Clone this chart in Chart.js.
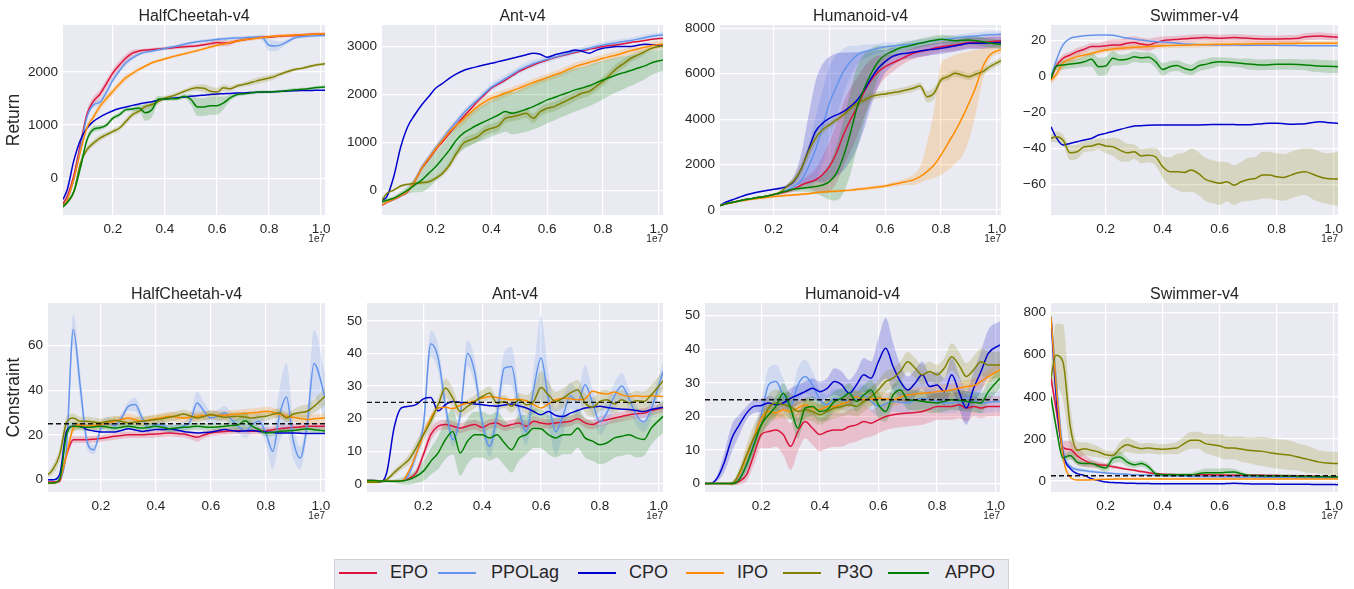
<!DOCTYPE html>
<html>
<head>
<meta charset="utf-8">
<title>Safe RL training curves</title>
<script src="https://cdn.jsdelivr.net/npm/chart.js@4.4.1/dist/chart.umd.min.js"></script>
<style>
  html, body { margin: 0; padding: 0; background: #fff; }
  body { width: 1354px; height: 589px; position: relative; overflow: hidden;
         font-family: "Liberation Sans", Arial, sans-serif; }
  canvas { position: absolute; }
  #legend { position: absolute; left: 334px; top: 559px; width: 675px; height: 36px;
            background: #eaeaf2; border: 1px solid #cfcfd6; box-sizing: border-box; }
  .lg-line { position: absolute; top: 11.5px; height: 2px; width: 38px; }
  .lg-text { position: absolute; top: 1px; font-size: 18px; line-height: 22px; color: #262626; }
</style>
</head>
<body>

<div id="legend"></div>

<script>
// Training steps (units of 1e7)
const STEPS = [0.008, 0.025, 0.05, 0.075, 0.1, 0.125, 0.15, 0.175, 0.2, 0.225,
               0.25, 0.275, 0.3, 0.325, 0.35, 0.375, 0.4, 0.425, 0.45, 0.475,
               0.5, 0.525, 0.55, 0.575, 0.6, 0.625, 0.65, 0.675, 0.7, 0.725,
               0.75, 0.775, 0.8, 0.825, 0.85, 0.875, 0.9, 0.925, 0.95, 0.975, 1.015];

const ALGOS = ['EPO', 'PPOLag', 'CPO', 'IPO', 'P3O', 'APPO'];
const CONSTRAINT_LIMIT = 25;

const X_TICKS = [0.2, 0.4, 0.6, 0.8, 1.0];
const hcRetTicks = [0, 1000, 2000];
const antRetTicks = [0, 1000, 2000, 3000];
const humRetTicks = [0, 2000, 4000, 6000, 8000];
const swRetTicks = [-60, -40, -20, 0, 20];
const hcConTicks = [0, 20, 40, 60];
const antConTicks = [0, 10, 20, 30, 40, 50];
const humConTicks = [0, 10, 20, 30, 40, 50];
const swConTicks = [0, 200, 400, 600, 800];

// ---------- HalfCheetah return ----------
const hcRetEPO = [-480,-330,60,640,1200,1450,1580,1780,1980,2130,
  2260,2350,2390,2410,2420,2430,2440,2450,2460,2470,
  2480,2490,2510,2530,2550,2540,2545,2580,2600,2620,
  2640,2650,2655,2665,2675,2680,2685,2690,2700,2705,2710];
const hcRetEPOSd = [30,30,40,60,80,80,80,80,80,80, 70,60,40,30,30,30,30,30,30,30,
  30,30,30,40,60,60,50,30,30,30, 30,30,30,30,30,30,30,30,30,30, 30];
const hcRetPPOLag = [-520,-380,-20,560,1150,1380,1430,1620,1850,2020,
  2170,2260,2330,2370,2390,2415,2440,2465,2490,2520,
  2545,2565,2580,2595,2610,2620,2630,2635,2640,2650,
  2655,2640,2500,2485,2515,2580,2640,2660,2670,2680,2685];
const hcRetPPOLagSd = [30,30,40,60,60,60,60,60,60,50, 50,40,30,30,30,30,30,30,30,30,
  30,30,30,30,30,30,30,30,30,30, 30,60,110,100,60,40,30,30,30,30, 30];
const hcRetCPO = [-400,-200,340,720,940,1070,1150,1215,1270,1310,
  1340,1370,1395,1420,1440,1465,1490,1505,1515,1528,
  1540,1550,1562,1574,1585,1590,1595,1600,1604,1610,
  1615,1620,1623,1628,1633,1640,1645,1648,1650,1652,1655];
const hcRetIPO = [-520,-400,0,500,950,1150,1350,1500,1635,1770,
  1890,1970,2045,2110,2170,2210,2245,2280,2310,2340,
  2370,2400,2435,2465,2500,2525,2550,2575,2600,2615,
  2630,2645,2660,2670,2680,2686,2692,2697,2702,2706,2710];
const hcRetIPOSd = [30,30,40,50,60,60,70,70,70,60, 60,50,40,30,30,30,30,30,30,30,
  30,30,30,30,30,30,30,30,30,30, 30,30,30,30,30,30,30,30,30,30, 30];
const hcRetP3O = [-500,-450,-250,280,535,660,755,820,880,945,
  1070,1195,1260,1350,1385,1445,1510,1540,1585,1635,
  1680,1700,1690,1635,1620,1700,1680,1730,1760,1790,
  1825,1855,1885,1920,1970,2010,2045,2065,2095,2125,2150];
const hcRetP3OSd = [30,30,40,60,60,60,60,50,50,50, 60,60,50,60,60,50,40,40,40,40,
  50,60,80,90,80,60,50,40,40,50, 60,60,60,50,40,40,30,30,30,30, 30];
const hcRetAPPO = [-540,-450,-250,200,720,920,950,1000,1130,1195,
  1290,1300,1320,1230,1290,1490,1490,1495,1500,1540,
  1480,1340,1340,1365,1365,1415,1510,1570,1585,1600,
  1615,1620,1623,1630,1635,1650,1665,1672,1680,1700,1717];
const hcRetAPPOSd = [30,30,40,60,60,60,50,40,40,40, 40,40,60,150,140,60,40,40,40,40,
  100,170,170,170,170,120,60,40,30,30, 30,30,30,30,30,30,30,30,30,30, 30];

// ---------- Ant return ----------
const antRetEPO = [-320,-260,-200,-120,-35,175,450,640,840,1010,
  1190,1360,1535,1690,1850,1990,2130,2215,2300,2390,
  2480,2550,2615,2670,2720,2765,2805,2840,2875,2910,
  2945,2970,3000,3020,3035,3060,3085,3105,3125,3150,3175];
const antRetPPOLag = [-300,-250,-190,-110,-20,200,480,680,880,1070,
  1260,1430,1605,1750,1885,2020,2150,2240,2330,2420,
  2510,2580,2640,2690,2735,2775,2815,2855,2895,2930,
  2965,3000,3035,3060,3080,3105,3125,3155,3185,3215,3245];
const antRetPPOLagSd = [20,20,20,30,30,40,50,60,70,70, 70,70,70,70,70,70,80,80,80,80,
  80,80,80,70,70,60,60,60,60,60, 60,60,60,60,60,60,60,60,60,60, 60];
const antRetCPO = [-210,-140,280,900,1325,1570,1780,1950,2130,2230,
  2340,2430,2500,2545,2580,2620,2650,2685,2720,2755,
  2790,2830,2860,2840,2775,2825,2860,2890,2930,2900,
  2860,2920,2965,2985,3000,3000,3000,3025,3050,3035,3020];
const antRetIPO = [-310,-250,-190,-110,-20,190,460,660,860,1040,
  1220,1360,1480,1620,1745,1840,1920,1970,2025,2075,
  2130,2190,2250,2300,2350,2405,2455,2520,2580,2625,
  2665,2710,2755,2790,2825,2870,2915,2950,2985,3020,3055];
const antRetIPOSd = [20,20,20,30,30,40,50,60,70,80, 90,100,110,110,100,100,90,90,80,80,
  80,80,80,80,80,80,80,80,80,80, 80,80,80,80,80,80,80,80,80,80, 80];
const antRetP3O = [-210,-70,0,85,120,140,155,175,245,350,
  525,770,980,1050,1115,1235,1290,1340,1500,1535,
  1570,1605,1500,1640,1710,1745,1815,1885,1955,2025,
  2060,2165,2270,2410,2550,2650,2755,2825,2895,2965,3015];
const antRetP3OSd = [20,20,30,30,30,30,40,40,50,60, 80,100,100,100,100,100,100,100,100,100,
  100,100,100,100,100,100,100,100,100,100, 100,100,100,100,100,100,80,80,60,60, 60];
const antRetAPPO = [-245,-210,-170,-90,0,105,210,350,490,660,
  840,1050,1190,1280,1360,1430,1500,1570,1640,1605,
  1640,1690,1745,1815,1885,1935,1990,2040,2095,2135,
  2180,2240,2300,2355,2410,2455,2500,2550,2595,2660,2720];
const antRetAPPOSd = [30,30,40,60,80,150,250,300,300,300, 300,320,340,350,360,370,380,400,420,440,
  450,470,480,490,490,480,470,460,450,440, 430,420,400,380,360,340,320,300,280,250, 220];

// ---------- Humanoid return ----------
const humRetEPO = [190,260,330,400,460,510,560,610,680,740,
  820,940,1100,1220,1320,1550,1910,2500,3300,3960,
  4550,5210,5725,6090,6310,6470,6605,6760,6900,6975,
  7045,7120,7190,7230,7265,7320,7370,7370,7370,7410,7455];
const humRetEPOSd = [20,20,20,20,30,30,30,30,40,60, 80,120,200,300,500,800,1100,1300,1400,1400,
  1300,1100,900,700,500,400,300,250,250,250, 250,250,250,250,250,250,250,250,250,250, 250];
const humRetPPOLag = [190,260,330,400,460,510,560,610,680,760,
  900,1050,1320,1900,2640,3670,4700,5430,6090,6530,
  6825,6970,7045,7120,7190,7220,7250,7280,7310,7355,
  7400,7445,7490,7525,7560,7600,7635,7660,7690,7715,7735];
const humRetPPOLagSd = [20,20,20,20,30,30,30,30,40,60, 100,200,400,900,1400,1600,1600,1400,1000,700,
  400,300,250,200,200,150,150,150,150,150, 150,150,150,150,150,150,150,150,150,150, 150];
const humRetCPO = [190,320,440,550,660,740,805,860,910,960,
  1050,1300,1835,2640,3450,3815,4035,4185,4330,4550,
  4845,5285,5800,6240,6530,6750,6855,6900,6945,7000,
  7045,7080,7120,7170,7220,7280,7340,7340,7340,7355,7370];
const humRetCPOSd = [30,30,30,30,30,30,30,30,40,60, 100,250,700,1500,2200,2600,2700,2700,2600,2400,
  2100,1700,1200,800,500,400,300,250,250,250, 250,250,250,250,250,250,250,250,250,250, 250];
const humRetIPO = [190,260,320,380,430,480,520,555,590,620,
  650,670,690,720,760,790,810,830,850,875,
  910,940,975,1015,1060,1120,1175,1250,1320,1470,
  1690,1980,2420,2935,3450,4035,4700,5430,6310,6825,7075];
const humRetIPOHi = [230,300,370,430,490,540,580,615,650,680,
  710,730,750,780,820,850,870,890,910,940,
  980,1020,1060,1100,1150,1230,1300,1400,1540,1900,
  2940,4400,6460,6680,6830,6900,6970,7050,7120,7190,7250];
const humRetIPOLo = [150,220,270,330,370,420,460,495,530,560,
  590,610,630,660,700,730,750,770,790,810,
  840,860,890,930,980,1020,1060,1100,1100,1200,
  1320,1400,1540,1760,2050,2350,3080,4250,5720,6600,6900];
const humRetP3O = [190,260,330,400,460,510,560,610,680,800,
  1060,1320,1835,2570,3155,3525,3745,3965,4185,4475,
  4700,4845,4990,5065,5110,5165,5210,5285,5360,5460,
  4990,5140,5725,5870,6020,5945,5870,5990,6090,6310,6575];
const humRetP3OSd = [20,20,20,20,30,30,30,30,40,60, 100,200,300,300,250,200,150,150,150,150,
  150,150,150,150,150,150,150,150,150,150, 250,250,150,150,150,150,150,150,150,150, 150];
const humRetAPPO = [190,260,330,400,460,510,560,610,680,760,
  850,920,955,990,1030,1100,1250,1615,2350,3375,
  4550,5360,6020,6530,6825,6980,7120,7200,7265,7340,
  7410,7470,7515,7490,7455,7470,7485,7450,7410,7350,7295];
const humRetAPPOSd = [20,20,20,20,30,30,30,30,40,60, 80,100,150,200,300,500,800,1200,1600,1800,
  1800,1500,1100,700,400,250,200,200,200,200, 200,200,200,200,200,200,200,200,200,200, 200];

// ---------- Swimmer return ----------
const swRetEPO = [-1.5,5.5,10.2,12,13.9,15.2,16.7,16.7,17.2,17.6,
  17.6,18.5,18.9,18.1,17.6,18.9,20,20.4,20.7,21,
  21.3,21.5,21.7,21.5,21.3,21.5,21.7,21.5,21.3,21.1,
  20.9,20.9,20.9,21,21.1,21.3,22.2,22.4,22.6,22.3,21.9];
const swRetEPOSd = [2,2,2,2,2,2,2,2,2.5,3, 3,3.5,3.5,3.5,3.5,3,2.5,2,2,2,
  2,2,2,2,2,2,2,2,2,2, 2,2,2,2,2,2,2,2,2,2, 2];
const swRetPPOLag = [0,8.3,17.6,21.3,22.2,22.7,23,23.2,23.2,23,
  22.2,21.5,20.9,20.3,19.8,19.5,19.3,18.9,18.5,18.2,
  18,17.8,17.7,17.6,17.6,17.6,17.6,17.5,17.5,17.5,
  17.4,17.4,17.4,17.3,17.3,17.2,17.2,17.2,17.2,17.2,17.2];
const swRetCPO = [-27.9,-33.5,-38.1,-37.2,-36.2,-35.3,-34.4,-32.5,-31.6,-30.5,
  -29.4,-28.4,-27.5,-27.3,-27.1,-27,-27,-27,-27,-27,
  -27,-26.9,-26.8,-26.7,-26.6,-26.6,-26.7,-26.8,-26.8,-26.5,
  -26.2,-26,-26,-26.2,-26.5,-26.4,-26.2,-25.6,-25.1,-25.5,-26];
const swRetIPO = [-1.9,0.9,7.4,9.6,11.1,12,12.9,13.9,14.8,15.3,
  15.7,16,16.3,16.5,16.7,17,17.2,17.3,17.4,17.5,
  17.6,17.7,17.8,17.9,18,18,18.1,18.1,18.1,18.2,
  18.2,18.3,18.3,18.4,18.4,18.5,18.5,18.5,18.5,18.5,18.5];
const swRetIPOSd = [2,2.5,3,2.5,2,1.5,1.5,1.5,1.5,1.5, 1.5,1.5,1.5,1.5,1.5,1.5,1.5,1.5,1.5,1.5,
  1.5,1.5,1.5,1.5,1.5,1.5,1.5,1.5,1.5,1.5, 1.5,1.5,1.5,1.5,1.5,1.5,1.5,1.5,1.5,1.5, 1.5];
const swRetP3O = [-34.4,-33.5,-35.3,-42.4,-41.8,-39,-38.6,-37.5,-38.6,-39,
  -40.9,-42.4,-41.8,-44.2,-43.7,-44.6,-50.2,-52.9,-52.9,-53.3,
  -52,-53.9,-57.2,-58.5,-59.4,-58.5,-60.4,-58.5,-57.2,-56.7,
  -54.8,-54.8,-55.7,-56.1,-54.8,-53.5,-52.9,-54.2,-55.7,-56.7,-57];
const swRetP3OSd = [2,3,3,4,4,3,3,3,4,5, 6,5,4,4,4,5,6,8,10,11,
  12,12,12,12,12,11,11,11,12,12, 13,13,13,13,13,13,13,14,14,14, 15];
const swRetAPPO = [-1,5.5,6.5,7,7.4,8.3,9.6,5.5,5.9,10.2,
  9.2,9.6,11.1,10.5,10.7,8.3,4,5.5,6.1,4.6,
  3.7,5.9,6.8,7.8,8.3,8.1,7.9,7.4,7,6.7,
  6.5,6.6,6.8,6.8,6.8,6.7,6.5,6.2,5.9,5.7,5.5];
const swRetAPPOSd = [2,2,2.5,2.5,2.5,3,4,5,5,4, 3,3,3,3,3,3.5,3.5,3,3,3,
  3,3,3,3,2.5,2.5,2.5,2.5,3,3, 3,3,3,3,3,3,3,3.5,3.5,3.5, 3.5];

// ---------- HalfCheetah constraint ----------
const hcConEPO = [-1,-1,-0.7,11,17.9,17.9,17.9,18.1,18.4,18.9,
  19.4,19.8,20.1,20.1,20.1,20.3,20.4,20.7,20.9,20.6,
  20.4,19.7,19,20,20.9,21.3,21.6,21.8,21.9,21.8,
  21.7,21.8,21.9,22.3,22.8,23.1,23.4,23.6,23.9,23.9,23.9];
const hcConEPOSd = [0.5,0.5,1,2,1.5,1.5,1.5,1.5,1.5,1.5, 1.5,1.5,1.5,1.5,1.5,1.5,1.5,1.5,1.5,1.5,
  1.5,1.5,2,1.5,1.5,1.5,1.5,1.5,1.5,1.5, 1.5,1.5,1.5,1.5,1.5,1.5,1.5,1.5,1.5,1.5, 1.5];
const hcConPPOLag = [0,0,0.7,14,67,42,17,13.4,23,26,
  24,27.6,32.8,33.6,27.6,23,24.6,24.6,22.4,23,
  23.9,26,34.3,30.6,27.6,28.4,29.9,26.9,23.9,21.6,
  24.6,26.1,20.9,12.7,29.1,37,17.2,9.7,24.6,52,37];
const hcConPPOLagSd = [0,0,1,3,7,6,3,2,2,2, 2,2,2,3,2,2,2,2,2,2,
  2,3,5,4,3,3,3,3,3,3, 3,3,5,8,12,15,8,5,5,15, 10];
const hcConCPO = [0,0,2.2,21.6,23.9,23.9,22.4,21.8,21.3,21.3,
  21.3,22,22.8,22.2,21.6,22,22.4,22.4,22.8,22.2,
  21.6,21.2,20.9,21.1,21.3,21.9,22.4,22,21.6,21.8,
  22,21.6,21.3,21.1,20.9,20.9,20.9,20.8,20.6,20.6,20.6];
const hcConIPO = [-1.5,-1.5,0,11,23,24.6,23.9,24.2,24.6,25.3,
  26.1,26.9,27.6,26.8,26.1,26.7,27.3,27.8,28.4,28,
  27.6,28,28.4,28.6,28.8,28.8,28.8,29.1,29.4,29.6,
  29.9,30.2,30.6,30.2,29.1,28.4,27.9,27.4,26.9,27.2,27.6];
const hcConIPOSd = [0.5,0.5,1,2,2,2,2,2,2,2, 2,2,2,2,2,2,2,2,2,2,
  2,2,2,2,2,2,2,2,2,2, 2,2,2,2,2,2,2,2,2,2, 2];
const hcConP3O = [2.2,4.5,11,25.4,27.6,26.1,26.1,25.8,25.4,26,
  26.6,26,25.4,25.8,26.1,26.5,26.9,27.3,27.9,28.6,
  29.4,28.5,27.6,28.3,29.1,28.5,27.9,28.2,28.4,28,
  27.6,28,28.4,29.2,29.9,27.6,29.4,30,30.6,32.8,37.3];
const hcConP3OSd = [1,2,3,3,2,2,2,2,2,2, 2,2,2,2,2,2,2,2,2,2,
  2,2,2,2,2,2,2,2,2,2, 2,2,2,2,2,2,2,3,3,3, 4];
const hcConAPPO = [-1.5,-1.5,0,20,23.9,23.6,23.4,23.6,23.9,23.5,
  23.1,23.5,23.9,23.4,23.1,23.5,23.9,23.4,22.8,23.1,
  23.4,23.6,23.9,23.6,23.4,23.6,23.9,24.2,24.6,26.4,
  23.9,22.4,20.9,21.2,21.6,21.8,22,22.4,22.8,22.3,21.9];
const hcConAPPOSd = [0.5,0.5,1,2,2,1.5,1.5,1.5,1.5,1.5, 1.5,1.5,1.5,1.5,1.5,1.5,1.5,1.5,1.5,1.5,
  1.5,1.5,1.5,1.5,1.5,1.5,1.5,2,3,4, 2,1.5,1.5,1.5,1.5,1.5,1.5,1.5,1.5,1.5, 1.5];

// ---------- Ant constraint ----------
const antConEPO = [1,1,0.9,0.8,0.8,0.9,1.6,3.4,9,15.1,
  17.7,18.2,17.7,17.1,17.7,18.2,17.3,18.4,18.7,17.7,
  18.2,18.7,17.7,19.2,18.7,18.4,18.7,18.9,19.2,20,
  18.7,18.2,19.2,19.7,20.2,20.7,21.2,21.5,21.7,22.5,23.3];
const antConEPOSd = [0.3,0.3,0.3,0.3,0.3,0.3,0.5,1,1.5,2, 1.5,1.5,1.5,1.5,1.5,1.5,1.5,1.5,1.5,1.5,
  1.5,1.5,1.5,1.5,1.5,1.5,1.5,1.5,1.5,1.5, 1.5,1.5,1.5,1.5,1.5,1.5,1.5,1.5,1.5,1.5, 1.5];
const antConPPOLag = [1,1,0.9,0.8,0.8,0.8,2.9,9,18,43,
  38.6,24,13.6,21,40,34,19,11.5,21,35.5,
  36,23,16,29,38.6,26,16,21,27,25,
  30.4,25,19,22,27,30,26,21,19,23,34.5];
const antConPPOLagSd = [0.3,0.3,0.3,0.3,0.3,0.3,1,2,3,4, 4,3,2,3,4,4,3,3,4,5,
  6,5,4,6,13,8,7,6,4,4, 6,4,4,4,4,4,3,3,3,3, 3];
const antConCPO = [0.8,0.8,0.6,3.4,17.1,23.3,23.8,24.3,26.1,26.5,
  22.4,24.3,25.3,25,24.8,24.5,24.3,24,23.8,24.2,
  24.5,23.9,23.3,22.2,21.2,22.2,21,20.7,21.7,22.5,
  23.3,23.5,23.8,23.4,23.1,22.9,22.8,22.5,22.2,22.8,23.5];
const antConIPO = [0.8,0.8,0.8,0.8,0.8,0.8,3.9,9,15.1,20.2,
  23.3,23.5,23.1,24.1,24.8,25.5,26.3,26.8,26.5,26.1,
  25.8,26,25.5,24.3,23.3,24.5,25.8,26.3,26.1,25.8,
  26.1,28.4,27.9,27.6,28.2,27.3,26.8,27,26.8,27,26.8];
const antConP3O = [0.5,0.5,0.6,1.3,3.4,5.4,7.4,11,15.1,19.2,
  24.3,29.4,26.3,22.2,23.8,25.3,26.8,27.9,24.8,25.3,
  23.8,25.8,24.3,25.3,29.6,27.3,25.3,26.3,27.9,28.9,
  24.8,23.5,25.3,25.8,24.5,25.8,24.8,25.5,25.3,27.3,31.6];
const antConP3OSd = [0.5,0.5,0.5,0.5,1,1,1.5,2,2,2, 2,3,3,2,2,2,2,2,2,2,
  2,2,3,4,5,4,3,3,3,3, 3,3,3,3,3,3,3,3,3,3, 3];
const antConAPPO = [1,1,0.9,0.8,0.8,0.9,1.3,2.3,3.9,6.9,
  9.5,13.6,16.1,9.5,13.1,15.1,15.1,14.1,15.1,12.6,
  10.5,14.1,15.1,17.1,16.9,15.1,14.1,15.1,15.1,17.1,
  14.1,13.1,12,12.6,14.1,14.6,15.1,14.1,13.6,17.1,20.7];
const antConAPPOSd = [0.3,0.3,0.3,0.3,0.5,1,1.5,2,3,4, 5,6,7,7,7,7,7,7,7,7,
  7,7,6,6,6,6,6,6,6,6, 6,6,6,6,6,6,6,6,5,5, 5];

// ---------- Humanoid constraint ----------
const humConEPO = [0,0,0,0,0,0.7,2.7,8.6,14.6,15.5,
  16,14.6,11.1,15.5,18.5,16.5,14.6,15.5,16,16,
  17,17.5,18.5,18,19,20,20.5,20.8,21,21.2,
  21.5,22.2,23,23,23,23.5,22.5,23,22.5,23,23];
const humConEPOSd = [0,0,0,0,0.5,1,2,3,4,5, 5,6,7,6,5,5,5,5,5,5,
  5,5,5,4,4,4,4,4,4,4, 4,4,4,4,4,4,4,3,3,3, 3];
const humConPPOLag = [0,0,0,0,0.2,1.7,5.6,12.6,20.5,29.4,
  30.4,26.4,23,29.4,31.9,29.4,25,23.5,25.4,25,
  24.5,25.5,26.4,24.5,23,23.8,24.5,24.2,24,24.8,
  25.4,25,24.5,24,24,24.5,25.4,24.8,24,24.2,24.5];
const humConPPOLagSd = [0,0,0,0,0.5,1,2,3,4,5, 5,5,4,5,5,4,3,3,3,3,
  3,3,3,3,3,3,3,3,3,3, 3,3,3,3,3,3,3,3,3,3, 3];
const humConCPO = [0,0,1.7,6.6,13.6,17.5,21,23,23.3,24,
  23.5,24,25.4,26.4,27.4,28.4,27.4,28.4,30.4,29.4,
  26.9,29.4,32.4,31.4,36.3,40.3,34.9,30.4,27.9,29.9,
  32.4,28.9,29.4,27.4,32.4,27.4,22.5,28.4,33.4,38.8,41.3];
const humConCPOSd = [0,0,1,3,4,3,2,2,2,2, 2,2,3,3,3,3,3,3,4,4,
  4,4,5,5,7,9,7,5,4,4, 4,4,4,4,5,5,5,5,6,7, 7];
const humConIPO = [0,0,0,0,0,2.7,8.1,13.6,19.5,21.5,
  21,22,21.5,22.5,23.5,22.5,22,23,23,23.8,
  24.5,25.9,25,25.2,25.4,25.2,25,25.7,26.4,26.7,
  26.9,27.1,27.4,27.6,27.9,28.4,28.9,29.2,30.4,31.9,33.9];
const humConIPOSd = [0,0,0,0,0.5,1,2,2,2,2, 2,2,2,2,2,2,2,2,2,2,
  2,2,2,2,2,2,2,2,2,2, 2,2,2,2,2,2,2,2,2,2, 2];
const humConP3O = [0,0,0,0,0,3.2,8.6,13.6,17.5,22.5,
  24,23.5,23,21.5,22,21.5,20.5,21.5,22.5,23,
  23.5,23,24.5,25.9,27.9,30.4,31.4,33.4,36.3,34.4,
  32.4,33.4,32.4,34.4,37.8,35.3,31.9,33.9,36.3,35.3,35.3];
const humConP3OSd = [0,0,0,0,0.5,1.5,3,4,4,4, 4,4,4,3,3,3,3,3,3,3,
  3,3,3,3,3,3,3,3,3,3, 3,3,3,3,4,4,4,4,4,4, 4];
const humConAPPO = [0,0,0,0,0,1.2,5.6,11.6,17.5,20.5,
  23,26.9,22.5,16.5,22.5,23,21.5,22,24.5,25.4,
  26.9,24.5,26.4,27.9,23.5,21.5,26.4,27.9,25,24.8,
  24.5,24.2,24,24.5,25,24.8,24.5,24.2,24,27.4,31.4];
const humConAPPOSd = [0,0,0,0,0.5,1,2,3,3,3, 3,3,3,3,3,3,3,3,3,3,
  3,3,3,3,4,3,3,3,3,3, 3,3,3,3,3,3,3,3,3,3, 3];

// ---------- Swimmer constraint ----------
const swConEPO = [490,350,160,150,120,98,83,78,75,68,
  62,56,51,45,40,35,32,31,30,30,
  30,30,30,29,29,28,28,27,27,27,
  27,26,26,25,25,24,24,23,22,20,19];
const swConEPOSd = [20,30,30,40,40,30,20,15,10,8, 6,5,5,5,5,5,5,5,5,5,
  5,5,5,5,5,5,5,5,5,5, 5,5,5,5,5,5,5,5,5,5, 5];
const swConPPOLag = [780,500,150,70,55,50,45,42,38,36,
  34,32,30,29,28,27,25,24,24,23,
  22,22,21,21,20,20,20,19,19,19,
  18,18,18,17,17,17,16,16,16,15,15];
const swConPPOLagSd = [10,40,30,15,10,8,6,5,5,5, 5,5,5,5,5,5,5,5,5,5,
  5,5,5,5,5,5,5,5,5,5, 5,5,5,5,5,5,5,5,5,5, 5];
const swConCPO = [780,420,130,60,35,27,11,3,-5,-7,
  -8,-10,-11,-12,-12,-13,-13,-13,-13,-13,
  -13,-13,-13,-13,-13,-12,-11,-12,-13,-14,
  -14,-14,-15,-15,-15,-15,-15,-16,-16,-16,-17];
const swConIPO = [780,470,120,20,5,5,6,7,8,9,
  10,10,10,10,10,10,10,10,10,10,
  10,10,10,10,10,10,10,10,10,10,
  10,10,10,10,10,10,10,10,10,10,10];
const swConP3O = [490,598,566,265,146,154,146,138,125,122,
  154,173,162,154,157,154,151,154,157,178,
  194,194,178,172,167,157,157,152,146,143,
  141,135,130,126,122,114,106,98,90,86,83];
const swConP3OSd = [40,150,180,100,40,30,30,25,20,20, 30,35,30,25,25,25,25,25,30,35,
  40,40,45,50,55,55,55,60,60,65, 70,70,70,70,70,65,65,60,55,55, 55];
const swConAPPO = [400,265,110,122,90,83,83,71,62,106,
  114,90,78,83,67,35,30,30,30,30,
  30,35,40,40,40,42,43,35,27,26,
  25,24,24,23,23,22,22,21,20,20,19];
const swConAPPOSd = [20,20,20,20,15,15,15,15,20,25, 25,20,15,15,15,10,8,8,8,8,
  10,15,20,20,20,20,15,10,8,8, 8,8,10,10,8,8,8,8,8,8, 8];

// ---------- styling ----------
const FONT = "'Liberation Sans', Arial, sans-serif";
const TEXT = '#262626';
const COLORS = {
  EPO: [220, 20, 60], PPOLag: [100, 149, 237], CPO: [0, 0, 205],
  IPO: [255, 140, 0], P3O: [128, 128, 0], APPO: [0, 128, 0]
};
const X_MIN = 0.008, X_MAX = 1.015;
const TITLE_H = 25, X_AXIS_H = 35, RIGHT_PAD = 15;

const PANELS = [
  { title: 'HalfCheetah-v4', ylabel: 'Return', box: [63, 25, 325, 215], axisW: 63,
    y: [-690, 2880], ticks: hcRetTicks,
    series: { EPO: { mean: hcRetEPO, sd: hcRetEPOSd }, PPOLag: { mean: hcRetPPOLag, sd: hcRetPPOLagSd },
              CPO: { mean: hcRetCPO }, IPO: { mean: hcRetIPO, sd: hcRetIPOSd },
              P3O: { mean: hcRetP3O, sd: hcRetP3OSd }, APPO: { mean: hcRetAPPO, sd: hcRetAPPOSd } } },
  { title: 'Ant-v4', box: [382, 25, 663, 215], axisW: 45,
    y: [-520, 3450], ticks: antRetTicks,
    series: { EPO: { mean: antRetEPO }, PPOLag: { mean: antRetPPOLag, sd: antRetPPOLagSd },
              CPO: { mean: antRetCPO }, IPO: { mean: antRetIPO, sd: antRetIPOSd },
              P3O: { mean: antRetP3O, sd: antRetP3OSd }, APPO: { mean: antRetAPPO, sd: antRetAPPOSd } } },
  { title: 'Humanoid-v4', box: [720, 25, 1001, 215], axisW: 45,
    y: [-220, 8145], ticks: humRetTicks,
    series: { EPO: { mean: humRetEPO, sd: humRetEPOSd }, PPOLag: { mean: humRetPPOLag, sd: humRetPPOLagSd },
              CPO: { mean: humRetCPO, sd: humRetCPOSd }, IPO: { mean: humRetIPO, lo: humRetIPOLo, hi: humRetIPOHi },
              P3O: { mean: humRetP3O, sd: humRetP3OSd }, APPO: { mean: humRetAPPO, sd: humRetAPPOSd } } },
  { title: 'Swimmer-v4', box: [1051, 25, 1338, 215], axisW: 45,
    y: [-77, 28.7], ticks: swRetTicks,
    series: { EPO: { mean: swRetEPO, sd: swRetEPOSd }, PPOLag: { mean: swRetPPOLag },
              CPO: { mean: swRetCPO }, IPO: { mean: swRetIPO, sd: swRetIPOSd },
              P3O: { mean: swRetP3O, sd: swRetP3OSd }, APPO: { mean: swRetAPPO, sd: swRetAPPOSd } } },
  { title: 'HalfCheetah-v4', ylabel: 'Constraint', box: [48, 303, 325, 492], axisW: 48,
    y: [-5.5, 79], ticks: hcConTicks, limit: CONSTRAINT_LIMIT,
    series: { EPO: { mean: hcConEPO, sd: hcConEPOSd }, PPOLag: { mean: hcConPPOLag, sd: hcConPPOLagSd },
              CPO: { mean: hcConCPO }, IPO: { mean: hcConIPO, sd: hcConIPOSd },
              P3O: { mean: hcConP3O, sd: hcConP3OSd }, APPO: { mean: hcConAPPO, sd: hcConAPPOSd } } },
  { title: 'Ant-v4', box: [367, 303, 663, 492], axisW: 45,
    y: [-2.5, 55.5], ticks: antConTicks, limit: CONSTRAINT_LIMIT,
    series: { EPO: { mean: antConEPO, sd: antConEPOSd }, PPOLag: { mean: antConPPOLag, sd: antConPPOLagSd },
              CPO: { mean: antConCPO }, IPO: { mean: antConIPO },
              P3O: { mean: antConP3O, sd: antConP3OSd }, APPO: { mean: antConAPPO, sd: antConAPPOSd } } },
  { title: 'Humanoid-v4', box: [705, 303, 1000, 492], axisW: 45,
    y: [-2.5, 53.8], ticks: humConTicks, limit: CONSTRAINT_LIMIT,
    series: { EPO: { mean: humConEPO, sd: humConEPOSd }, PPOLag: { mean: humConPPOLag, sd: humConPPOLagSd },
              CPO: { mean: humConCPO, sd: humConCPOSd }, IPO: { mean: humConIPO, sd: humConIPOSd },
              P3O: { mean: humConP3O, sd: humConP3OSd }, APPO: { mean: humConAPPO, sd: humConAPPOSd } } },
  { title: 'Swimmer-v4', box: [1051, 303, 1338, 492], axisW: 45,
    y: [-52, 846], ticks: swConTicks, limit: CONSTRAINT_LIMIT,
    series: { EPO: { mean: swConEPO, sd: swConEPOSd }, PPOLag: { mean: swConPPOLag, sd: swConPPOLagSd },
              CPO: { mean: swConCPO }, IPO: { mean: swConIPO },
              P3O: { mean: swConP3O, sd: swConP3OSd }, APPO: { mean: swConAPPO, sd: swConAPPOSd } } }
];

function rgba(c, a) { return `rgba(${c[0]},${c[1]},${c[2]},${a})`; }
function pts(arr) { return STEPS.map((x, i) => ({ x: x, y: arr[i] })); }
function fmtTick(v) { return v < 0 ? '\u2212' + Math.abs(v) : String(v); }

// gray axes background, subplot title and the 1e7 offset text
const panelDecor = {
  id: 'panelDecor',
  beforeDraw(chart) {
    const { ctx, chartArea: a } = chart;
    ctx.save();
    ctx.fillStyle = '#eaeaf2';
    ctx.fillRect(a.left, a.top, a.right - a.left, a.bottom - a.top);
    ctx.restore();
  },
  afterDraw(chart, args, opts) {
    const { ctx, chartArea: a } = chart;
    ctx.save();
    ctx.fillStyle = TEXT;
    ctx.textAlign = 'center';
    ctx.textBaseline = 'alphabetic';
    ctx.font = `16px ${FONT}`;
    ctx.fillText(opts.title, (a.left + a.right) / 2, a.top - 4.5);
    ctx.textAlign = 'right';
    ctx.font = `10px ${FONT}`;
    ctx.fillText('1e7', a.right, a.bottom + 27);
    ctx.restore();
  }
};

function buildDatasets(p) {
  const ds = [];
  ALGOS.forEach((name, k) => {
    const s = p.series[name];
    const c = COLORS[name];
    if (s.sd || s.lo) {
      const hi = s.hi || s.mean.map((v, i) => v + s.sd[i]);
      const lo = s.lo || s.mean.map((v, i) => v - s.sd[i]);
      ds.push({ data: pts(hi), borderWidth: 0, pointRadius: 0, fill: '+1',
                backgroundColor: rgba(c, 0.2), order: 40 - k });
      ds.push({ data: pts(lo), borderWidth: 0, pointRadius: 0, fill: false, order: 40 - k });
    }
    ds.push({ label: name, data: pts(s.mean), borderColor: rgba(c, 1), borderWidth: 1.5,
              pointRadius: 0, fill: false, order: 20 - k });
  });
  if (p.limit !== undefined) {
    ds.push({ data: [{ x: X_MIN, y: p.limit }, { x: X_MAX, y: p.limit }],
              borderColor: '#111', borderWidth: 1.4, borderDash: [5, 3],
              pointRadius: 0, fill: false, order: 0 });
  }
  return ds;
}

PANELS.forEach(p => {
  const [L, T, R, B] = p.box;
  const canvas = document.createElement('canvas');
  const w = p.axisW + (R - L) + RIGHT_PAD;
  const h = TITLE_H + (B - T) + X_AXIS_H;
  canvas.width = w; canvas.height = h;
  canvas.style.left = (L - p.axisW) + 'px';
  canvas.style.top = (T - TITLE_H) + 'px';
  canvas.style.width = w + 'px';
  canvas.style.height = h + 'px';
  document.body.appendChild(canvas);

  new Chart(canvas, {
    type: 'line',
    data: { datasets: buildDatasets(p) },
    options: {
      responsive: false,
      animation: false,
      layout: { padding: { top: TITLE_H, right: RIGHT_PAD, left: 0, bottom: 0 } },
      elements: { line: { cubicInterpolationMode: 'monotone' } },
      plugins: {
        legend: { display: false },
        tooltip: { enabled: false },
        panelDecor: { title: p.title }
      },
      scales: {
        x: {
          type: 'linear', min: X_MIN, max: X_MAX,
          border: { display: false },
          grid: { color: '#ffffff', lineWidth: 1.2, drawTicks: false },
          ticks: { color: TEXT, font: { family: FONT, size: 13.5 }, padding: 6,
                   maxRotation: 0, autoSkip: false, callback: v => v.toFixed(1) },
          afterBuildTicks: axis => { axis.ticks = X_TICKS.map(v => ({ value: v })); },
          afterFit: axis => { axis.height = X_AXIS_H; }
        },
        y: {
          type: 'linear', min: p.y[0], max: p.y[1],
          border: { display: false },
          grid: { color: '#ffffff', lineWidth: 1.2, drawTicks: false },
          ticks: { color: TEXT, font: { family: FONT, size: 13.5 }, padding: 5,
                   autoSkip: false, callback: v => fmtTick(v) },
          title: { display: !!p.ylabel, text: p.ylabel || '', color: TEXT,
                   font: { family: FONT, size: 17.5 }, padding: { top: 4, bottom: 4 } },
          afterBuildTicks: axis => { axis.ticks = p.ticks.map(v => ({ value: v })); },
          afterFit: axis => { axis.width = p.axisW; }
        }
      }
    },
    plugins: [panelDecor]
  });
});

// shared legend below the grid
const LEGEND_POS = { EPO: [4, 55], PPOLag: [103, 156], CPO: [243, 294],
                     IPO: [351, 402], P3O: [448, 502], APPO: [553, 610] };
const legend = document.getElementById('legend');
ALGOS.forEach(name => {
  const [lx, tx] = LEGEND_POS[name];
  const line = document.createElement('div');
  line.className = 'lg-line';
  line.style.left = lx + 'px';
  line.style.background = rgba(COLORS[name], 1);
  if (name === 'APPO') line.style.width = '41px';
  const text = document.createElement('div');
  text.className = 'lg-text';
  text.style.left = tx + 'px';
  text.textContent = name;
  legend.appendChild(line);
  legend.appendChild(text);
});
</script>
</body>
</html>
